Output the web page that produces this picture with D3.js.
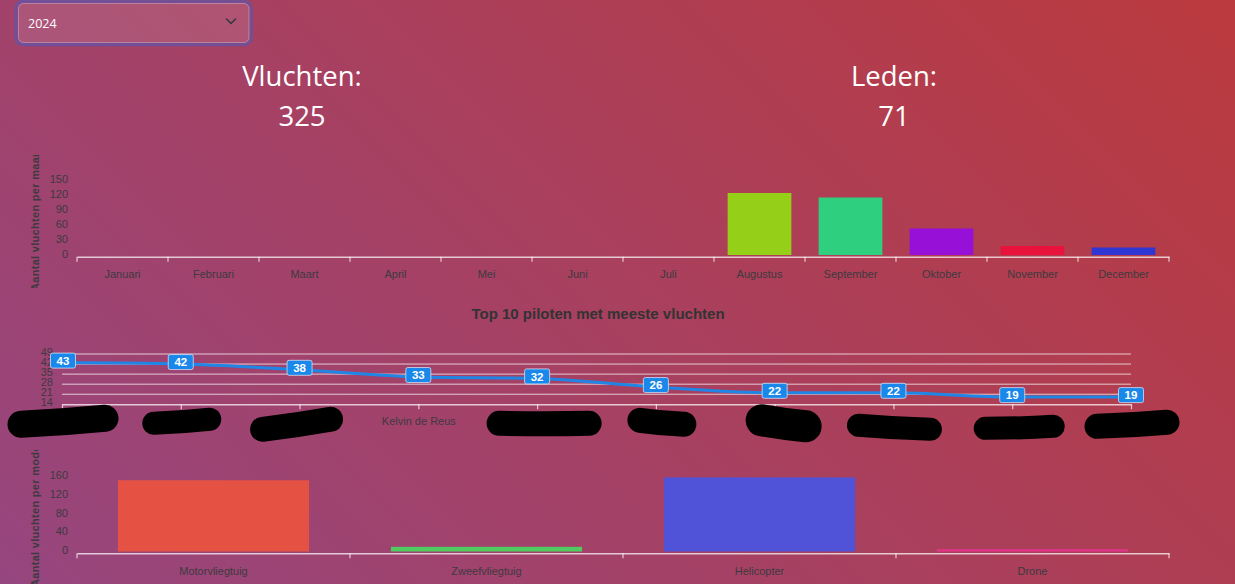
<!DOCTYPE html>
<html><head><meta charset="utf-8">
<script src="https://cdn.jsdelivr.net/npm/d3@7"></script>
<style>
html,body{margin:0;padding:0;width:1235px;height:584px;overflow:hidden;}
body{background:linear-gradient(45deg,#96467f 0%,#bb3a3e 100%);}
svg{position:absolute;left:0;top:0;}
</style></head><body>
<svg id="c" width="1235" height="584"></svg>
<script>
// ---------- data ----------
const selectedYear = "2024";
const statLabels = ["Vluchten:", "Leden:"];
const statValues = [325, 71];

const months = ["Januari","Februari","Maart","April","Mei","Juni","Juli","Augustus","September","Oktober","November","December"];
const monthFlights = [0,0,0,0,0,0,0,124,115,53,18,15];
const monthColors = ["#e6194b","#3cb44b","#ffe119","#4363d8","#f58231","#911eb4","#46f0f0","#96cf18","#2ecf7f","#9610d8","#e8123c","#2f36d4"];
const monthTicks = [0,30,60,90,120,150];
const monthAxisTitle = "Aantal vluchten per maand";

const pilotTitle = "Top 10 piloten met meeste vluchten";
const pilots = ["Piloot 1","Piloot 2","Piloot 3","Kelvin de Reus","Piloot 5","Piloot 6","Piloot 7","Piloot 8","Piloot 9","Piloot 10"];
const pilotFlights = [43,42,38,33,32,26,22,22,19,19];
const pilotTicks = [14,21,28,35,42,49];

const types = ["Motorvliegtuig","Zweefvliegtuig","Helicopter","Drone"];
const typeFlights = [152,10,158,5];
const typeColors = ["#e55244","#4fcb5f","#5053d8","#e2358a"];
const typeTicks = [0,40,80,120,160];
const typeAxisTitle = "Aantal vluchten per modeltype";

// ---------- styles ----------
const FONT = "'Liberation Sans', Arial, sans-serif";
const TXT = "#3d3a40";
const LINE = "rgba(255,255,255,0.72)";

const svg = d3.select("#c");

// ---------- dropdown ----------
const dd = svg.append("g");
dd.append("rect").attr("x",16).attr("y",1.5).attr("width",235).attr("height",43).attr("rx",7)
  .attr("fill","none").attr("stroke","rgba(13,110,253,0.32)").attr("stroke-width",3.5);
dd.append("rect").attr("x",18.5).attr("y",3.5).attr("width",230.5).attr("height",39).attr("rx",5)
  .attr("fill","rgba(255,255,255,0.1)").attr("stroke","rgba(255,255,255,0.3)").attr("stroke-width",1);
dd.append("text").attr("x",28).attr("y",27.5).text(selectedYear)
  .attr("fill","#fff").style("font-family","'Open Sans',sans-serif").style("font-size","12.5px");
dd.append("path").attr("d","M226.5,19 l4.5,4.5 l4.5,-4.5").attr("fill","none")
  .attr("stroke","#343a40").attr("stroke-width",1.6).attr("stroke-linecap","round").attr("stroke-linejoin","round");

// ---------- stats ----------
const statX = d3.scalePoint().domain(statLabels).range([302,894]);
statLabels.forEach((l,i)=>{
  svg.append("text").attr("x",statX(l)).attr("y",86).attr("text-anchor","middle").text(l)
    .attr("fill","#fff").style("font-family","'Open Sans',sans-serif").style("font-size","27.5px");
  svg.append("text").attr("x",statX(l)).attr("y",126).attr("text-anchor","middle").text(statValues[i])
    .attr("fill","#fff").style("font-family","'Open Sans',sans-serif").style("font-size","27.5px");
});

// helper: band chart
function bandChart(cats, vals, colors, ticks, yRange, axisY, labelY, title, titleClip, titleStart){
  const x = d3.scaleBand().domain(cats).range([77,1169]).paddingInner(0.3).paddingOuter(0.15);
  const y = d3.scaleLinear().domain([0,ticks[ticks.length-1]]).range(yRange);
  const g = svg.append("g");
  const ya = g.append("g").attr("transform","translate(72,-1.5)")
    .call(d3.axisLeft(y).tickValues(ticks).tickSize(0).tickPadding(4));
  ya.select(".domain").remove();
  ya.selectAll("text").attr("fill",TXT).style("font-family",FONT).style("font-size","11px");
  g.selectAll("rect.bar").data(cats).join("rect").attr("class","bar")
    .attr("x",d=>x(d)).attr("width",x.bandwidth())
    .attr("y",(d,i)=>y(vals[i])).attr("height",(d,i)=>y(0)-y(vals[i]))
    .attr("fill",(d,i)=>colors[i]);
  const xa = g.append("g").attr("transform",`translate(0,${axisY})`)
    .call(d3.axisBottom(x).tickSize(0).tickSizeOuter(0).tickPadding(labelY-axisY-3.5));
  xa.select(".domain").attr("stroke",LINE).attr("stroke-width",1.5);
  xa.selectAll("text").attr("fill",TXT).style("font-family",FONT).style("font-size","11px");
  const off = (x.step()-x.bandwidth())/2;
  const bounds = cats.map(c=>x(c)-off).concat([x(cats[cats.length-1])+x.bandwidth()+off]);
  g.selectAll("line.bt").data(bounds).join("line").attr("class","bt")
    .attr("x1",d=>d).attr("x2",d=>d).attr("y1",axisY).attr("y2",axisY+5)
    .attr("stroke",LINE).attr("stroke-width",1.2);
  const id = "clip"+Math.round(axisY);
  svg.append("clipPath").attr("id",id).append("rect")
    .attr("x",0).attr("y",titleClip[0]).attr("width",70).attr("height",titleClip[1]-titleClip[0]);
  svg.append("g").attr("clip-path",`url(#${id})`).append("text")
    .attr("transform",`translate(39,${titleStart}) rotate(-90)`).text(title)
    .attr("fill",TXT).style("font-family",FONT).style("font-size","11px").style("font-weight","bold")
    .style("letter-spacing","0.3px");
}

bandChart(months, monthFlights, monthColors, monthTicks, [255,180], 256.7, 274, monthAxisTitle, [155,288], 291);
bandChart(types, typeFlights, typeColors, typeTicks, [551.5,476.5], 553.3, 571, typeAxisTitle, [450,584], 587);

// ---------- line chart ----------
svg.append("text").attr("x",598).attr("y",318.5).attr("text-anchor","middle").text(pilotTitle)
  .attr("fill","#333").style("font-family",FONT).style("font-size","15px").style("font-weight","bold");

const xp = d3.scalePoint().domain(pilots).range([62,1131]);
const yp = d3.scaleLinear().domain([pilotTicks[0], pilotTicks[pilotTicks.length-1]]).range([404.3,354]);
const lg = svg.append("g");
lg.selectAll("line.grid").data(pilotTicks.slice(1)).join("line").attr("class","grid")
  .attr("x1",62).attr("x2",1131).attr("y1",d=>yp(d)).attr("y2",d=>yp(d))
  .attr("stroke",LINE).attr("stroke-width",1);
const lya = lg.append("g").attr("transform","translate(57,-2)")
  .call(d3.axisLeft(yp).tickValues(pilotTicks).tickSize(0).tickPadding(4));
lya.select(".domain").remove();
lya.selectAll("text").attr("fill",TXT).style("font-family",FONT).style("font-size","11px");
const lxa = lg.append("g").attr("transform","translate(0,404.3)")
  .call(d3.axisBottom(xp).tickSize(5).tickSizeOuter(0).tickPadding(8));
lxa.select(".domain").attr("stroke",LINE).attr("stroke-width",1.5);
lxa.selectAll(".tick line").attr("stroke",LINE).attr("stroke-width",1.2);
lxa.selectAll("text").attr("fill",TXT).style("font-family",FONT).style("font-size","11px");
const line = d3.line().x((d,i)=>xp(pilots[i])).y(d=>yp(d)).curve(d3.curveMonotoneX);
lg.append("path").datum(pilotFlights).attr("d",line).attr("fill","none")
  .attr("stroke","#1f86e6").attr("stroke-width",3);
const dl = lg.selectAll("g.dl").data(pilotFlights).join("g").attr("class","dl")
  .attr("transform",(d,i)=>`translate(${xp(pilots[i])+(i===0?1:0)},${yp(d)-2})`);
dl.append("rect").attr("x",-12.5).attr("y",-7.5).attr("width",25).attr("height",15).attr("rx",2)
  .attr("fill","#1a88ea").attr("stroke","rgba(220,230,245,0.75)").attr("stroke-width",1);
dl.append("text").attr("text-anchor","middle").attr("y",4.2).text(d=>d)
  .attr("fill","#fff").style("font-family",FONT).style("font-size","11.5px").style("font-weight","bold");

// ---------- redaction marks over pilot names ----------
const redactions = [
  {i:0, dx:1,  dy:17, hw:42, tilt:-3, w:27},
  {i:1, dx:1,  dy:17, hw:28, tilt:-2, w:23},
  {i:2, dx:-3, dy:20, hw:34, tilt:-5, w:25},
  {i:4, dx:7,  dy:19, hw:45, tilt:0,  w:25},
  {i:5, dx:6,  dy:18, hw:22, tilt:2,  w:25},
  {i:6, dx:9,  dy:19, hw:22, tilt:3,  w:32},
  {i:7, dx:1,  dy:23, hw:36, tilt:2,  w:23},
  {i:8, dx:7,  dy:23, hw:34, tilt:-1, w:23},
  {i:9, dx:1,  dy:20, hw:35, tilt:-2, w:25}
];
lg.selectAll("path.red").data(redactions).join("path").attr("class","red")
  .attr("d",r=>{const cx=xp(pilots[r.i])+r.dx, cy=404.3+r.dy;
    return `M${cx-r.hw},${cy-r.tilt} Q${cx},${cy+1} ${cx+r.hw},${cy+r.tilt}`;})
  .attr("fill","none").attr("stroke","#000").attr("stroke-width",r=>r.w).attr("stroke-linecap","round");
</script>
</body></html>
